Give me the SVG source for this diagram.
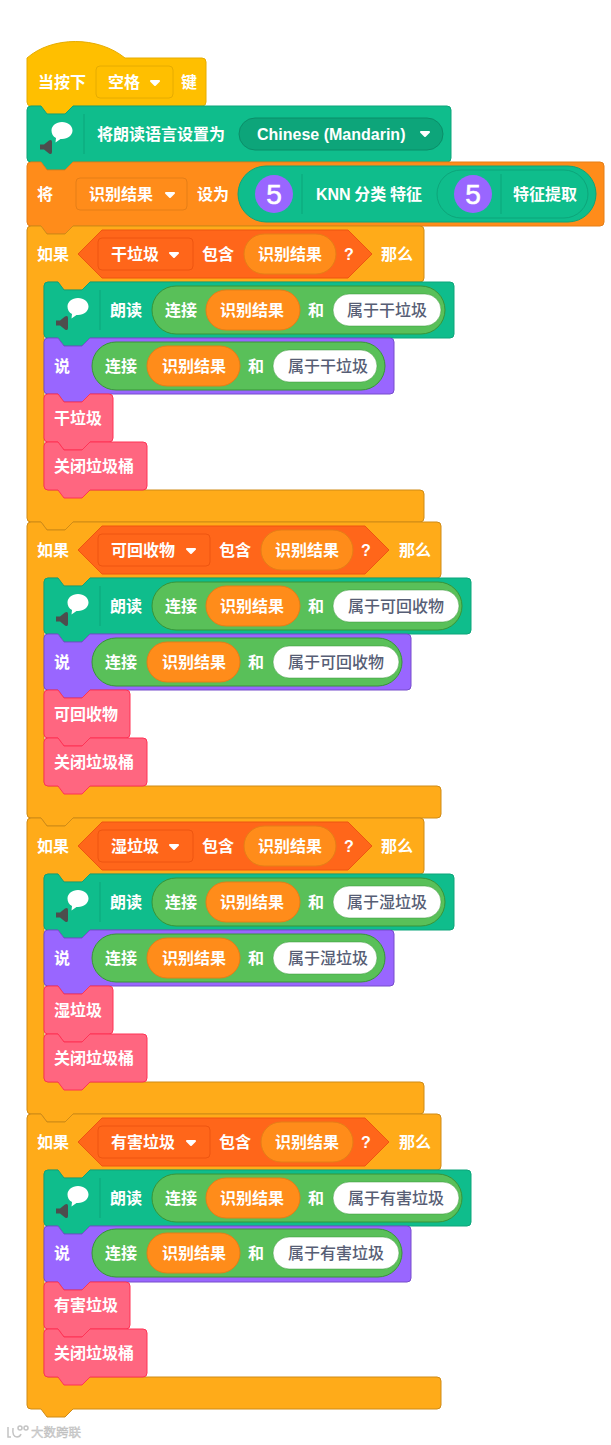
<svg xmlns="http://www.w3.org/2000/svg" xmlns:xlink="http://www.w3.org/1999/xlink" width="611" height="1445" viewBox="0 0 611 1445">
<style>
text{font-family:"Noto Sans CJK SC","Noto Sans",sans-serif;font-size:16px;font-weight:700;fill:#fff}
.g{fill:#575E75;font-weight:500}
.l{font-family:"Liberation Sans","Noto Sans CJK SC",sans-serif}
.five{font-family:"Liberation Sans",sans-serif;font-size:28px;font-weight:400;text-anchor:middle;stroke:#fff;stroke-width:.6}
.hat{fill:#FFBF00;stroke:#E6AC00}
.teal{fill:#0FBD8C;stroke:#0DA57A}
.var{fill:#FF8C1A;stroke:#E57E17}
.ctl{fill:#FFAB19;stroke:#CF8B17}
.pur{fill:#9966FF;stroke:#774DCB}
.pnk{fill:#FF6680;stroke:#FF3355}
.ops{fill:#59C059;stroke:#389438}
.bool{fill:#FF661A;stroke:#EE5510}
.wht{fill:#fff;stroke:#389438;stroke-width:.5}
.div{stroke:#0DA57A;stroke-width:1;fill:none}
.arr{fill:#fff;stroke:#fff;stroke-width:2;stroke-linejoin:round}
.wm{fill:none;stroke:#c4c4c4;stroke-width:1.500}
</style>
<defs>
<path id="arrow" class="arr" d="M-4-2h8l-4 4z"/>
<g id="icon">
<path fill="#fff" d="M78 16c6 0 10.500 3.800 10.500 8.500S84 33 78 33h-1.500l-5 3.500 .5-4.500c-3-1.500-4.500-4.300-4.500-7.500 0-4.700 4.500-8.500 10.500-8.500z"/>
<path fill="#4d4d4d" d="M56 38.500h4l5-4q3-1.500 3 1.500v10q0 3-3 1.500l-5-4h-4z"/>
<path class="div" d="M100 8V48"/>
</g>
</defs>

<g id="hat">
<path class="hat" d="M27 58c25-22 71-22 98 0H202a4 4 0 0 1 4 4V102a4 4 0 0 1-4 4H73l-8 8H47l-6-8H31a4 4 0 0 1-4-4Z"/>
<text x="38" y="88">当按下</text>
<rect class="hat" x="96" y="66" width="77" height="32" rx="4"/>
<text x="108" y="88">空格</text>
<use href="#arrow" x="155" y="83"/>
<text x="181" y="88">键</text>
</g>

<g id="set-language" transform="translate(0,106)">
<path class="teal" d="M27 4a4 4 0 0 1 4-4h10l6 8h18l8-8H447a4 4 0 0 1 4 4V52a4 4 0 0 1-4 4H73l-8 8H47l-6-8H31a4 4 0 0 1-4-4Z"/>
<use href="#icon" x="-16"/>
<text x="97" y="34">将朗读语言设置为</text>
<rect x="239" y="12" width="204" height="32" rx="16" fill="#0DA57A" stroke="#0B8E69"/>
<text class="l" x="257" y="34">Chinese (Mandarin)</text>
<use href="#arrow" x="425" y="28"/>
</g>

<g id="set-variable" transform="translate(0,162)">
<path class="var" d="M27 4a4 4 0 0 1 4-4h10l6 8h18l8-8H600a4 4 0 0 1 4 4V60a4 4 0 0 1-4 4H73l-8 8H47l-6-8H31a4 4 0 0 1-4-4Z"/>
<text x="37" y="38">将</text>
<rect class="var" x="76" y="16" width="111" height="32" rx="4"/>
<text x="89" y="38">识别结果</text>
<use href="#arrow" x="170" y="33"/>
<text x="197" y="38">设为</text>
<rect class="teal" x="238" y="4" width="358" height="56" rx="28"/>
<circle cx="274" cy="32" r="19" fill="#9966FF"/>
<text class="five" x="274" y="42">5</text>
<path class="div" d="M302 12V52"/>
<text x="316" y="38"><tspan class="l">KNN</tspan> 分类 特征</text>
<rect class="teal" x="437" y="8" width="151" height="48" rx="24"/>
<circle cx="473" cy="32" r="19" fill="#9966FF"/>
<text class="five" x="473" y="42">5</text>
<path class="div" d="M501 12V52"/>
<text x="513" y="38">特征提取</text>
</g>

<g id="if-dry" transform="translate(0,226)">
<path class="ctl" d="M27 4a4 4 0 0 1 4-4h10l6 8h18l8-8H420a4 4 0 0 1 4 4V52a4 4 0 0 1-4 4H90l-8 8H64l-6-8H48a4 4 0 0 0-4 4V260a4 4 0 0 0 4 4H420a4 4 0 0 1 4 4V292a4 4 0 0 1-4 4H73l-8 8H47l-6-8H31a4 4 0 0 1-4-4Z"/>
<text x="37" y="34">如果</text>
<path class="bool" d="M78 28L102 4H348L372 28L348 52H102Z"/>
<rect class="bool" x="98" y="12" width="95" height="32" rx="4"/>
<text x="111" y="34">干垃圾</text>
<use href="#arrow" x="174" y="29"/>
<text x="202" y="34">包含</text>
<rect class="var" x="244" y="8" width="92" height="40" rx="20"/>
<text x="258" y="34">识别结果</text>
<text class="l" x="344" y="34">?</text>
<text x="381" y="34">那么</text>
<g id="if-dry-speak" transform="translate(0,56)">
<path class="teal" d="M44 4a4 4 0 0 1 4-4h10l6 8h18l8-8H450a4 4 0 0 1 4 4V52a4 4 0 0 1-4 4H90l-8 8H64l-6-8H48a4 4 0 0 1-4-4Z"/>
<use href="#icon"/>
<text x="110" y="34">朗读</text>
<rect class="ops" x="152" y="4" width="293" height="48" rx="24"/>
<text x="165" y="34">连接</text>
<rect class="var" x="206" y="8" width="94" height="40" rx="20"/>
<text x="220" y="34">识别结果</text>
<text x="308" y="34">和</text>
<rect class="wht" x="333" y="12" width="108" height="32" rx="16"/>
<text class="g" x="347" y="34">属于干垃圾</text>
</g>
<g id="if-dry-say" transform="translate(0,112)">
<path class="pur" d="M44 4a4 4 0 0 1 4-4h10l6 8h18l8-8H390a4 4 0 0 1 4 4V52a4 4 0 0 1-4 4H90l-8 8H64l-6-8H48a4 4 0 0 1-4-4Z"/>
<text x="54" y="34">说</text>
<rect class="ops" x="92" y="4" width="293" height="48" rx="24"/>
<text x="105" y="34">连接</text>
<rect class="var" x="147" y="8" width="93" height="40" rx="20"/>
<text x="162" y="34">识别结果</text>
<text x="248" y="34">和</text>
<rect class="wht" x="273" y="12" width="104" height="32" rx="16"/>
<text class="g" x="288" y="34">属于干垃圾</text>
</g>
<g id="if-dry-label" transform="translate(0,168)">
<path class="pnk" d="M44 4a4 4 0 0 1 4-4h10l6 8h18l8-8H109a4 4 0 0 1 4 4V44a4 4 0 0 1-4 4H90l-8 8H64l-6-8H48a4 4 0 0 1-4-4Z"/>
<text x="54" y="30">干垃圾</text>
</g>
<g id="if-dry-close" transform="translate(0,216)">
<path class="pnk" d="M44 4a4 4 0 0 1 4-4h10l6 8h18l8-8H143a4 4 0 0 1 4 4V44a4 4 0 0 1-4 4H90l-8 8H64l-6-8H48a4 4 0 0 1-4-4Z"/>
<text x="54" y="30">关闭垃圾桶</text>
</g>
</g>

<g id="if-recyclable" transform="translate(0,522)">
<path class="ctl" d="M27 4a4 4 0 0 1 4-4h10l6 8h18l8-8H437a4 4 0 0 1 4 4V52a4 4 0 0 1-4 4H90l-8 8H64l-6-8H48a4 4 0 0 0-4 4V260a4 4 0 0 0 4 4H437a4 4 0 0 1 4 4V292a4 4 0 0 1-4 4H73l-8 8H47l-6-8H31a4 4 0 0 1-4-4Z"/>
<text x="37" y="34">如果</text>
<path class="bool" d="M78 28L102 4H365L389 28L365 52H102Z"/>
<rect class="bool" x="98" y="12" width="112" height="32" rx="4"/>
<text x="111" y="34">可回收物</text>
<use href="#arrow" x="191" y="29"/>
<text x="219" y="34">包含</text>
<rect class="var" x="261" y="8" width="92" height="40" rx="20"/>
<text x="275" y="34">识别结果</text>
<text class="l" x="361" y="34">?</text>
<text x="399" y="34">那么</text>
<g id="if-recyclable-speak" transform="translate(0,56)">
<path class="teal" d="M44 4a4 4 0 0 1 4-4h10l6 8h18l8-8H467a4 4 0 0 1 4 4V52a4 4 0 0 1-4 4H90l-8 8H64l-6-8H48a4 4 0 0 1-4-4Z"/>
<use href="#icon"/>
<text x="110" y="34">朗读</text>
<rect class="ops" x="152" y="4" width="310" height="48" rx="24"/>
<text x="165" y="34">连接</text>
<rect class="var" x="206" y="8" width="94" height="40" rx="20"/>
<text x="220" y="34">识别结果</text>
<text x="308" y="34">和</text>
<rect class="wht" x="333" y="12" width="126" height="32" rx="16"/>
<text class="g" x="348" y="34">属于可回收物</text>
</g>
<g id="if-recyclable-say" transform="translate(0,112)">
<path class="pur" d="M44 4a4 4 0 0 1 4-4h10l6 8h18l8-8H407a4 4 0 0 1 4 4V52a4 4 0 0 1-4 4H90l-8 8H64l-6-8H48a4 4 0 0 1-4-4Z"/>
<text x="54" y="34">说</text>
<rect class="ops" x="92" y="4" width="310" height="48" rx="24"/>
<text x="105" y="34">连接</text>
<rect class="var" x="147" y="8" width="93" height="40" rx="20"/>
<text x="162" y="34">识别结果</text>
<text x="248" y="34">和</text>
<rect class="wht" x="273" y="12" width="126" height="32" rx="16"/>
<text class="g" x="288" y="34">属于可回收物</text>
</g>
<g id="if-recyclable-label" transform="translate(0,168)">
<path class="pnk" d="M44 4a4 4 0 0 1 4-4h10l6 8h18l8-8H126a4 4 0 0 1 4 4V44a4 4 0 0 1-4 4H90l-8 8H64l-6-8H48a4 4 0 0 1-4-4Z"/>
<text x="54" y="30">可回收物</text>
</g>
<g id="if-recyclable-close" transform="translate(0,216)">
<path class="pnk" d="M44 4a4 4 0 0 1 4-4h10l6 8h18l8-8H143a4 4 0 0 1 4 4V44a4 4 0 0 1-4 4H90l-8 8H64l-6-8H48a4 4 0 0 1-4-4Z"/>
<text x="54" y="30">关闭垃圾桶</text>
</g>
</g>

<g id="if-wet" transform="translate(0,818)">
<path class="ctl" d="M27 4a4 4 0 0 1 4-4h10l6 8h18l8-8H420a4 4 0 0 1 4 4V52a4 4 0 0 1-4 4H90l-8 8H64l-6-8H48a4 4 0 0 0-4 4V260a4 4 0 0 0 4 4H420a4 4 0 0 1 4 4V292a4 4 0 0 1-4 4H73l-8 8H47l-6-8H31a4 4 0 0 1-4-4Z"/>
<text x="37" y="34">如果</text>
<path class="bool" d="M78 28L102 4H348L372 28L348 52H102Z"/>
<rect class="bool" x="98" y="12" width="95" height="32" rx="4"/>
<text x="111" y="34">湿垃圾</text>
<use href="#arrow" x="174" y="29"/>
<text x="202" y="34">包含</text>
<rect class="var" x="244" y="8" width="92" height="40" rx="20"/>
<text x="258" y="34">识别结果</text>
<text class="l" x="344" y="34">?</text>
<text x="381" y="34">那么</text>
<g id="if-wet-speak" transform="translate(0,56)">
<path class="teal" d="M44 4a4 4 0 0 1 4-4h10l6 8h18l8-8H450a4 4 0 0 1 4 4V52a4 4 0 0 1-4 4H90l-8 8H64l-6-8H48a4 4 0 0 1-4-4Z"/>
<use href="#icon"/>
<text x="110" y="34">朗读</text>
<rect class="ops" x="152" y="4" width="293" height="48" rx="24"/>
<text x="165" y="34">连接</text>
<rect class="var" x="206" y="8" width="94" height="40" rx="20"/>
<text x="220" y="34">识别结果</text>
<text x="308" y="34">和</text>
<rect class="wht" x="333" y="12" width="108" height="32" rx="16"/>
<text class="g" x="347" y="34">属于湿垃圾</text>
</g>
<g id="if-wet-say" transform="translate(0,112)">
<path class="pur" d="M44 4a4 4 0 0 1 4-4h10l6 8h18l8-8H390a4 4 0 0 1 4 4V52a4 4 0 0 1-4 4H90l-8 8H64l-6-8H48a4 4 0 0 1-4-4Z"/>
<text x="54" y="34">说</text>
<rect class="ops" x="92" y="4" width="293" height="48" rx="24"/>
<text x="105" y="34">连接</text>
<rect class="var" x="147" y="8" width="93" height="40" rx="20"/>
<text x="162" y="34">识别结果</text>
<text x="248" y="34">和</text>
<rect class="wht" x="273" y="12" width="104" height="32" rx="16"/>
<text class="g" x="288" y="34">属于湿垃圾</text>
</g>
<g id="if-wet-label" transform="translate(0,168)">
<path class="pnk" d="M44 4a4 4 0 0 1 4-4h10l6 8h18l8-8H109a4 4 0 0 1 4 4V44a4 4 0 0 1-4 4H90l-8 8H64l-6-8H48a4 4 0 0 1-4-4Z"/>
<text x="54" y="30">湿垃圾</text>
</g>
<g id="if-wet-close" transform="translate(0,216)">
<path class="pnk" d="M44 4a4 4 0 0 1 4-4h10l6 8h18l8-8H143a4 4 0 0 1 4 4V44a4 4 0 0 1-4 4H90l-8 8H64l-6-8H48a4 4 0 0 1-4-4Z"/>
<text x="54" y="30">关闭垃圾桶</text>
</g>
</g>

<g id="if-hazardous" transform="translate(0,1114)">
<path class="ctl" d="M27 4a4 4 0 0 1 4-4h10l6 8h18l8-8H437a4 4 0 0 1 4 4V52a4 4 0 0 1-4 4H90l-8 8H64l-6-8H48a4 4 0 0 0-4 4V259a4 4 0 0 0 4 4H437a4 4 0 0 1 4 4V291a4 4 0 0 1-4 4H73l-8 8H47l-6-8H31a4 4 0 0 1-4-4Z"/>
<text x="37" y="34">如果</text>
<path class="bool" d="M78 28L102 4H365L389 28L365 52H102Z"/>
<rect class="bool" x="98" y="12" width="112" height="32" rx="4"/>
<text x="111" y="34">有害垃圾</text>
<use href="#arrow" x="191" y="29"/>
<text x="219" y="34">包含</text>
<rect class="var" x="261" y="8" width="92" height="40" rx="20"/>
<text x="275" y="34">识别结果</text>
<text class="l" x="361" y="34">?</text>
<text x="399" y="34">那么</text>
<g id="if-hazardous-speak" transform="translate(0,56)">
<path class="teal" d="M44 4a4 4 0 0 1 4-4h10l6 8h18l8-8H467a4 4 0 0 1 4 4V52a4 4 0 0 1-4 4H90l-8 8H64l-6-8H48a4 4 0 0 1-4-4Z"/>
<use href="#icon"/>
<text x="110" y="34">朗读</text>
<rect class="ops" x="152" y="4" width="310" height="48" rx="24"/>
<text x="165" y="34">连接</text>
<rect class="var" x="206" y="8" width="94" height="40" rx="20"/>
<text x="220" y="34">识别结果</text>
<text x="308" y="34">和</text>
<rect class="wht" x="333" y="12" width="126" height="32" rx="16"/>
<text class="g" x="348" y="34">属于有害垃圾</text>
</g>
<g id="if-hazardous-say" transform="translate(0,112)">
<path class="pur" d="M44 4a4 4 0 0 1 4-4h10l6 8h18l8-8H407a4 4 0 0 1 4 4V52a4 4 0 0 1-4 4H90l-8 8H64l-6-8H48a4 4 0 0 1-4-4Z"/>
<text x="54" y="33">说</text>
<rect class="ops" x="92" y="3" width="310" height="48" rx="24"/>
<text x="105" y="33">连接</text>
<rect class="var" x="147" y="7" width="93" height="40" rx="20"/>
<text x="162" y="33">识别结果</text>
<text x="248" y="33">和</text>
<rect class="wht" x="273" y="11" width="126" height="32" rx="16"/>
<text class="g" x="288" y="33">属于有害垃圾</text>
</g>
<g id="if-hazardous-label" transform="translate(0,168)">
<path class="pnk" d="M44 4a4 4 0 0 1 4-4h10l6 8h18l8-8H126a4 4 0 0 1 4 4V43a4 4 0 0 1-4 4H90l-8 8H64l-6-8H48a4 4 0 0 1-4-4Z"/>
<text x="54" y="29">有害垃圾</text>
</g>
<g id="if-hazardous-close" transform="translate(0,215)">
<path class="pnk" d="M44 4a4 4 0 0 1 4-4h10l6 8h18l8-8H143a4 4 0 0 1 4 4V44a4 4 0 0 1-4 4H90l-8 8H64l-6-8H48a4 4 0 0 1-4-4Z"/>
<text x="54" y="30">关闭垃圾桶</text>
</g>
</g>

<g id="watermark">
<path class="wm" d="M8 1427v10h3M13 1428q-1 9 4 9q3 0 4-3"/>
<circle class="wm" cx="20" cy="1428" r="2" stroke-width="1"/>
<circle class="wm" cx="26" cy="1428" r="2" stroke-width="1"/>
<text x="31" y="1437" style="font-size:12.500px;font-weight:400;fill:#d8d8d8;stroke:#bbb;stroke-width:.4">大数跨联</text>
</g>
</svg>
